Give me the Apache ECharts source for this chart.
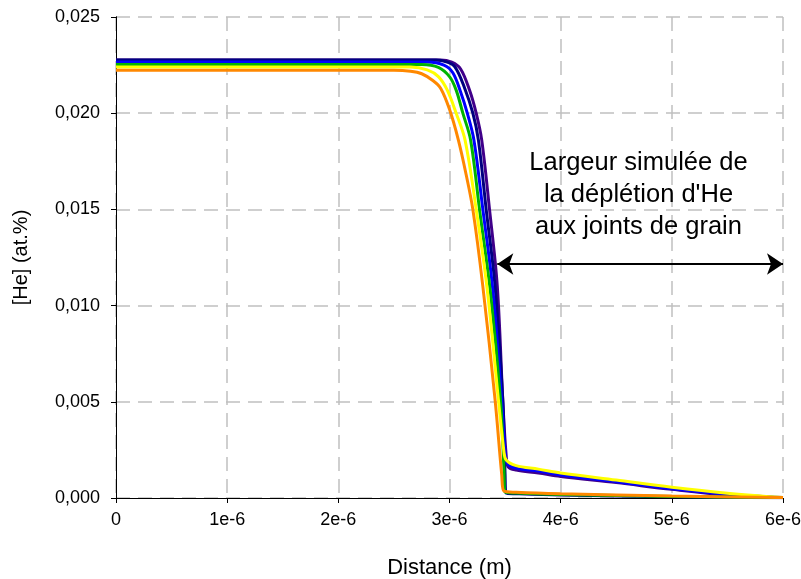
<!DOCTYPE html>
<html>
<head>
<meta charset="utf-8">
<script src="https://cdn.jsdelivr.net/npm/echarts@6/dist/echarts.min.js"></script>
<style>html,body{margin:0;padding:0;background:#fff;}#c{width:801px;height:579px;}</style>
</head>
<body>
<div id="c"></div>
<script>
// x in units of 1e-6 m, y in at.%
var xTickLabels = ['0','1e-6','2e-6','3e-6','4e-6','5e-6','6e-6'];
var yTickLabels = ['0,000','0,005','0,010','0,015','0,020','0,025'];

var seriesNames = ['s1','s2','s3','s4','s5','s6'];

var purpleData = [[0,0.02277],[2.92,0.02277],[3.02,0.02265],[3.1,0.0223],[3.18,0.0212],[3.24,0.0200],[3.29,0.0186],[3.36,0.0150],[3.43,0.0110],[3.48,0.0050],[3.51,0.0022],[3.53,0.0016],[3.6,0.00145],[3.8,0.0013],[4.0,0.00112],[4.5,0.0008],[5.0,0.00045],[5.5,0.00016],[6.0,0.00002]];
var navyData = [[0,0.02277],[2.88,0.02277],[2.98,0.02265],[3.05,0.0224],[3.13,0.0214],[3.21,0.0200],[3.26,0.0186],[3.33,0.0150],[3.41,0.0110],[3.48,0.0050],[3.5,0.0012],[3.51,0.00025],[3.6,0.00022],[4.0,0.00015],[5.0,0.00006],[6.0,0.00001]];
var blueData = [[0,0.02266],[2.8,0.02266],[2.95,0.0225],[3.03,0.0221],[3.1,0.0211],[3.16,0.0200],[3.22,0.0186],[3.30,0.0150],[3.39,0.0108],[3.47,0.0050],[3.50,0.0024],[3.52,0.0018],[3.6,0.00155],[3.8,0.0014],[4.0,0.0012],[4.5,0.00085],[5.0,0.00048],[5.5,0.0002],[6.0,0.00002]];
var greenData = [[0,0.02253],[2.75,0.02253],[2.9,0.02238],[3.0,0.0219],[3.06,0.0212],[3.12,0.0200],[3.19,0.0186],[3.27,0.0150],[3.37,0.0106],[3.46,0.0050],[3.49,0.0015],[3.5,0.0003],[3.6,0.00026],[4.0,0.00018],[5.0,0.00008],[6.0,0.00002]];
var yellowData = [[0,0.0224],[2.65,0.0224],[2.8,0.02225],[2.9,0.0219],[2.98,0.0212],[3.06,0.0200],[3.14,0.0186],[3.24,0.0150],[3.34,0.0108],[3.44,0.0051],[3.49,0.0024],[3.51,0.00198],[3.6,0.00168],[3.8,0.0015],[4.0,0.0013],[4.5,0.00093],[5.0,0.00056],[5.5,0.00025],[6.0,0.00002]];
var orangeData = [[0,0.02223],[2.5,0.02223],[2.65,0.02218],[2.75,0.02205],[2.85,0.0217],[2.92,0.0213],[3.0,0.0202],[3.08,0.0186],[3.15,0.0168],[3.21,0.0150],[3.30,0.0110],[3.41,0.0051],[3.47,0.0012],[3.49,0.00036],[3.6,0.0003],[4.0,0.00022],[5.0,0.0001],[6.0,0.00002]];

var seriesData = [purpleData, navyData, blueData, greenData, yellowData, orangeData];
var seriesColors = ['#40008a','#000080','#0000ff','#00b400','#ffff00','#ff8800'];

var arrowStart = [3.43, 0.01216];
var arrowEnd = [6.0, 0.01216];
var annotationLines = ['Largeur simulée de', 'la déplétion d\'He', 'aux joints de grain'];
var annotationAnchor = [4.7, 0.01573];

var FONT = 'Liberation Sans, Arial, sans-serif';

var chart = echarts.init(document.getElementById('c'), null, {renderer: 'canvas'});

var series = seriesData.map(function (d, i) {
  return {
    name: seriesNames[i],
    type: 'line',
    data: d,
    showSymbol: false,
    smooth: 0.35,
    lineStyle: {color: seriesColors[i], width: 3},
    itemStyle: {color: seriesColors[i]},
    z: 2 + i,
    silent: true,
    animation: false
  };
});

series.push({
  type: 'line',
  data: [],
  silent: true,
  animation: false,
  z: 10,
  markLine: {
    silent: true,
    animation: false,
    symbol: ['arrow', 'arrow'],
    symbolSize: [16, 16],
    label: {show: false},
    lineStyle: {color: '#000', width: 2, type: 'solid'},
    data: [[{coord: arrowStart}, {coord: arrowEnd}]]
  }
});

chart.setOption({
  animation: false,
  backgroundColor: '#fff',
  grid: {left: 116, right: 18, top: 17, bottom: 81, outerBoundsMode: 'none', containLabel: false},
  xAxis: [{
    type: 'value', min: 0, max: 6, interval: 1,
    name: 'Distance (m)', nameLocation: 'middle', nameGap: 59,
    nameTextStyle: {fontFamily: FONT, fontSize: 22, color: '#000'},
    axisLine: {lineStyle: {color: '#000', width: 1}},
    axisTick: {show: true, inside: false, length: 5, lineStyle: {color: '#000'}},
    axisLabel: {margin: 13, fontFamily: FONT, fontSize: 18, color: '#000',
      formatter: function (v) { return xTickLabels[Math.round(v)]; }},
    splitLine: {show: true, lineStyle: {color: '#c0c0c0', type: [14, 8], width: 1.5}}
  }, {
    type: 'value', min: 0, max: 6, position: 'top',
    axisLine: {show: true, lineStyle: {color: '#000', width: 1}},
    axisTick: {show: false}, axisLabel: {show: false}, splitLine: {show: false}
  }],
  yAxis: [{
    type: 'value', min: 0, max: 0.025, interval: 0.005,
    name: '[He] (at.%)', nameLocation: 'middle', nameGap: 85, nameRotate: 90,
    nameTextStyle: {fontFamily: FONT, fontSize: 20, color: '#000'},
    axisLine: {show: true, lineStyle: {color: '#000', width: 1}},
    axisTick: {show: true, inside: false, length: 5, lineStyle: {color: '#000'}},
    axisLabel: {margin: 16, fontFamily: FONT, fontSize: 18, color: '#000',
      formatter: function (v) { return yTickLabels[Math.round(v / 0.005)]; }},
    splitLine: {show: true, lineStyle: {color: '#c0c0c0', type: [14, 8], width: 1.5}}
  }, {
    type: 'value', min: 0, max: 0.025, position: 'right',
    axisLine: {show: true, lineStyle: {color: '#000', width: 1}},
    axisTick: {show: false}, axisLabel: {show: false}, splitLine: {show: false}
  }],
  series: series
});

var anchorPx = chart.convertToPixel({gridIndex: 0}, annotationAnchor);
chart.setOption({
  graphic: [{
    type: 'text',
    x: anchorPx[0],
    y: anchorPx[1],
    z: 20,
    silent: true,
    style: {
      text: annotationLines.join('\n'),
      fontFamily: FONT,
      fontSize: 25.5,
      lineHeight: 32,
      fill: '#000',
      align: 'center',
      verticalAlign: 'middle'
    }
  }]
});
</script>
</body>
</html>
